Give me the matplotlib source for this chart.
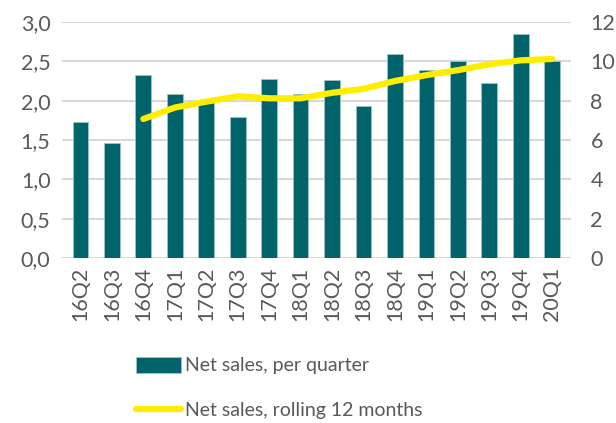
import matplotlib
matplotlib.use("Agg")
import matplotlib.pyplot as plt
import numpy as np

quarters = ['16Q2', '16Q3', '16Q4', '17Q1', '17Q2', '17Q3', '17Q4', '18Q1',
            '18Q2', '18Q3', '18Q4', '19Q1', '19Q2', '19Q3', '19Q4', '20Q1']
sales_q = [1.73, 1.46, 2.33, 2.08, 2.00, 1.79, 2.27, 2.09,
           2.26, 1.93, 2.59, 2.39, 2.50, 2.22, 2.85, 2.50]
# rolling 12 months starts at 16Q4
rolling_q = quarters[2:]
rolling = [7.07, 7.65, 7.95, 8.22, 8.12, 8.12, 8.40, 8.60,
           9.00, 9.30, 9.55, 9.85, 10.05, 10.12]

teal = '#00646A'
yellow = '#FFED00'
grey_txt = '#595959'
grid_col = '#D9D9D9'

plt.rcParams['font.family'] = ['Lato', 'DejaVu Sans']

fig = plt.figure(figsize=(6.16, 4.23), dpi=100)
ax = fig.add_axes([0.10, 0.39, 0.827, 0.558])
ax2 = ax.twinx()

x = np.arange(len(quarters))
ax.bar(x, sales_q, width=0.5, color=teal, edgecolor='#9CC3C5', linewidth=0.6,
       label='Net sales, per quarter', zorder=2)
xr = [quarters.index(q) for q in rolling_q]
ax2.plot(xr, rolling, color=yellow, linewidth=4.5, solid_capstyle='round',
         label='Net sales, rolling 12 months', zorder=3)

ax.set_xlim(-0.6, len(quarters) - 0.4)
ax.set_ylim(0, 3.0)
ax2.set_ylim(0, 12)
ax.set_yticks(np.arange(0, 3.01, 0.5))
ax.set_yticklabels([('%.1f' % v).replace('.', ',') for v in np.arange(0, 3.01, 0.5)])
ax2.set_yticks(range(0, 13, 2))
ax.set_xticks(x)
ax.set_xticklabels(quarters, rotation=90)

ax.grid(axis='y', color=grid_col, linewidth=1.5, zorder=0)
ax.set_axisbelow(True)
for a in (ax, ax2):
    for s in a.spines.values():
        s.set_visible(False)
    a.tick_params(length=0, labelsize=15.5, colors=grey_txt)
ax.tick_params(axis='y', pad=8)
ax2.tick_params(axis='y', pad=14)
ax.tick_params(axis='x', pad=6)

h1, l1 = ax.get_legend_handles_labels()
h2, l2 = ax2.get_legend_handles_labels()
fig.legend(h1 + h2, l1 + l2, loc='upper left', bbox_to_anchor=(0.205, 0.18),
           frameon=False, fontsize=14, labelcolor=grey_txt,
           handlelength=2.3, handleheight=0.9, handletextpad=0.2,
           labelspacing=1.4, borderpad=0)

fig.savefig('out.png', dpi=100)
